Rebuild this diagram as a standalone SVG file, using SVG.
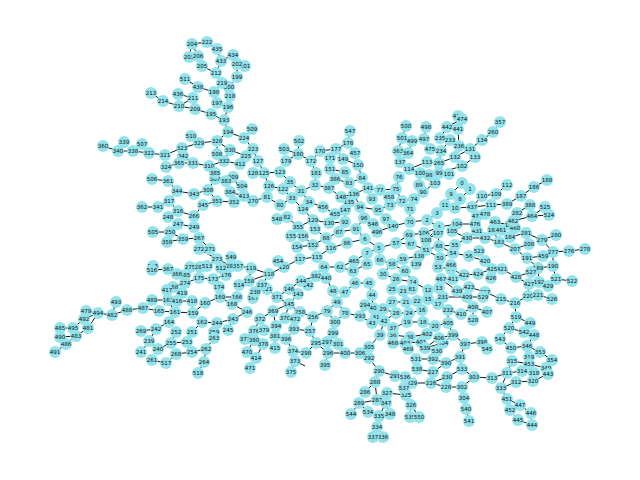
<svg xmlns="http://www.w3.org/2000/svg" width="640" height="480" viewBox="0 0 640 480">
<style>
#edges path{stroke:#000;stroke-width:.9;fill:none}
circle{r:6px;fill:#93e3ec}
text{font:5.6px "DejaVu Sans",sans-serif;text-anchor:middle;dominant-baseline:central;fill:#111}
</style>
<rect width="640" height="480" fill="#fff"/>
<g id="edges">
<path d="M192 44L207 42"/><path d="M207 42L217 49"/><path d="M192 44L189 57"/><path d="M192 44L198 56"/><path d="M198 56L202 66"/><path d="M202 66L216 73"/><path d="M217 49L221 61"/><path d="M221 61L216 73"/><path d="M233 55L221 61"/><path d="M237 64L237 77"/><path d="M245 66L237 64"/><path d="M216 73L222 83"/><path d="M222 83L229 87"/><path d="M237 77L229 87"/><path d="M229 87L230 96"/><path d="M230 96L228 107"/><path d="M185 79L198 87"/><path d="M198 87L214 92"/><path d="M214 92L217 103"/><path d="M214 92L222 83"/><path d="M217 103L228 107"/><path d="M228 107L224 120"/><path d="M224 120L211 114"/><path d="M211 114L195 109"/><path d="M195 109L179 106"/><path d="M179 106L163 101"/><path d="M163 101L151 93"/><path d="M179 106L193 98"/><path d="M178 94L193 98"/><path d="M193 98L195 109"/><path d="M224 120L228 132"/><path d="M228 132L244 138"/><path d="M228 132L217 141"/><path d="M217 141L199 143"/><path d="M199 143L191 136"/><path d="M199 143L182 148"/><path d="M182 148L165 155"/><path d="M182 148L183 156"/><path d="M165 155L149 153"/><path d="M149 153L142 144"/><path d="M149 153L133 151"/><path d="M133 151L118 151"/><path d="M118 151L103 146"/><path d="M118 151L124 142"/><path d="M217 141L230 150"/><path d="M217 141L217 154"/><path d="M230 150L246 156"/><path d="M230 150L224 161"/><path d="M224 161L240 164"/><path d="M224 161L209 166"/><path d="M209 166L193 163"/><path d="M193 163L179 163"/><path d="M179 163L166 167"/><path d="M193 163L183 156"/><path d="M244 138L253 149"/><path d="M253 149L246 156"/><path d="M253 149L258 161"/><path d="M258 161L264 173"/><path d="M252 129L244 138"/><path d="M264 173L253 173"/><path d="M264 173L280 172"/><path d="M264 173L269 186"/><path d="M269 186L283 189"/><path d="M283 189L290 182"/><path d="M290 182L280 172"/><path d="M290 182L301 191"/><path d="M301 191L315 185"/><path d="M301 191L292 198"/><path d="M283 189L292 198"/><path d="M292 198L280 205"/><path d="M280 205L267 197"/><path d="M267 197L253 201"/><path d="M292 198L303 209"/><path d="M303 209L313 220"/><path d="M313 220L298 227"/><path d="M298 227L287 217"/><path d="M287 217L277 219"/><path d="M309 202L301 191"/><path d="M309 202L323 207"/><path d="M323 207L335 214"/><path d="M335 214L345 210"/><path d="M345 210L349 202"/><path d="M349 202L354 194"/><path d="M354 194L341 197"/><path d="M341 197L329 188"/><path d="M329 188L315 185"/><path d="M315 185L316 173"/><path d="M316 173L311 161"/><path d="M311 161L298 154"/><path d="M298 154L286 161"/><path d="M298 154L299 141"/><path d="M298 154L284 149"/><path d="M311 161L320 151"/><path d="M320 151L336 149"/><path d="M336 149L348 143"/><path d="M348 143L350 131"/><path d="M348 143L355 153"/><path d="M336 149L330 158"/><path d="M336 149L343 159"/><path d="M343 159L358 165"/><path d="M330 158L330 169"/><path d="M330 169L345 172"/><path d="M345 172L349 183"/><path d="M349 183L335 179"/><path d="M335 179L329 188"/><path d="M349 183L362 178"/><path d="M362 178L368 188"/><path d="M362 178L358 165"/><path d="M368 188L380 190"/><path d="M368 188L354 194"/><path d="M354 194L360 207"/><path d="M360 207L378 210"/><path d="M378 210L386 219"/><path d="M386 219L393 226"/><path d="M393 226L410 222"/><path d="M393 226L377 232"/><path d="M377 232L373 224"/><path d="M373 224L364 218"/><path d="M364 218L356 229"/><path d="M356 229L365 239"/><path d="M356 229L339 232"/><path d="M339 232L345 222"/><path d="M345 222L329 223"/><path d="M329 223L313 220"/><path d="M329 223L335 214"/><path d="M345 222L345 210"/><path d="M339 232L326 238"/><path d="M326 238L315 229"/><path d="M326 238L313 245"/><path d="M313 245L297 247"/><path d="M313 245L303 236"/><path d="M315 229L313 220"/><path d="M303 236L298 227"/><path d="M291 236L303 236"/><path d="M331 248L326 238"/><path d="M331 248L347 243"/><path d="M347 243L365 239"/><path d="M365 239L379 248"/><path d="M379 248L396 243"/><path d="M396 243L409 235"/><path d="M409 235L424 233"/><path d="M424 233L439 227"/><path d="M411 244L396 243"/><path d="M411 244L426 250"/><path d="M426 250L426 240"/><path d="M426 240L439 227"/><path d="M426 240L438 233"/><path d="M439 227L427 220"/><path d="M427 220L410 222"/><path d="M427 220L437 213"/><path d="M437 213L445 205"/><path d="M445 205L451 194"/><path d="M451 194L462 183"/><path d="M462 183L470 189"/><path d="M470 189L460 199"/><path d="M460 199L455 208"/><path d="M455 208L472 207"/><path d="M472 207L482 196"/><path d="M472 207L491 205"/><path d="M439 227L457 224"/><path d="M457 224L475 224"/><path d="M475 224L477 231"/><path d="M477 231L467 238"/><path d="M467 238L485 238"/><path d="M452 231L467 238"/><path d="M452 231L457 224"/><path d="M467 238L455 245"/><path d="M455 245L439 246"/><path d="M439 246L426 250"/><path d="M439 246L438 233"/><path d="M439 246L453 253"/><path d="M453 253L440 258"/><path d="M453 253L469 256"/><path d="M440 258L426 250"/><path d="M469 256L479 251"/><path d="M469 256L485 261"/><path d="M440 258L438 267"/><path d="M438 267L451 269"/><path d="M451 269L451 265"/><path d="M451 269L464 275"/><path d="M464 275L478 274"/><path d="M478 274L492 269"/><path d="M464 275L453 279"/><path d="M453 279L441 279"/><path d="M441 279L457 291"/><path d="M457 291L469 287"/><path d="M469 287L467 297"/><path d="M469 287L485 292"/><path d="M485 292L501 299"/><path d="M501 299L515 303"/><path d="M467 297L483 297"/><path d="M467 297L443 297"/><path d="M443 297L439 288"/><path d="M443 297L438 304"/><path d="M438 304L448 310"/><path d="M448 310L461 314"/><path d="M461 314L473 307"/><path d="M473 307L487 312"/><path d="M473 307L473 320"/><path d="M448 310L448 323"/><path d="M448 323L435 326"/><path d="M448 323L453 335"/><path d="M435 326L423 322"/><path d="M423 322L407 322"/><path d="M407 322L393 328"/><path d="M393 328L393 335"/><path d="M393 335L410 337"/><path d="M410 337L427 334"/><path d="M427 334L421 342"/><path d="M421 342L405 343"/><path d="M405 343L408 349"/><path d="M405 343L393 343"/><path d="M421 342L425 348"/><path d="M425 348L443 343"/><path d="M443 343L453 335"/><path d="M439 338L453 335"/><path d="M439 338L425 348"/><path d="M425 348L437 351"/><path d="M453 335L465 344"/><path d="M465 344L482 342"/><path d="M482 342L487 349"/><path d="M465 344L460 357"/><path d="M460 357L446 363"/><path d="M446 363L433 372"/><path d="M446 363L433 359"/><path d="M433 359L416 359"/><path d="M433 372L417 369"/><path d="M433 372L431 383"/><path d="M431 383L412 383"/><path d="M412 383L405 377"/><path d="M405 377L395 376"/><path d="M395 376L379 371"/><path d="M379 371L375 382"/><path d="M375 382L377 400"/><path d="M377 400L387 393"/><path d="M387 393L406 395"/><path d="M406 395L404 388"/><path d="M404 388L412 383"/><path d="M431 383L447 377"/><path d="M447 377L462 369"/><path d="M462 369L460 357"/><path d="M462 369L474 377"/><path d="M474 377L492 378"/><path d="M474 377L462 387"/><path d="M462 387L446 387"/><path d="M446 387L431 383"/><path d="M462 387L464 398"/><path d="M464 398L466 409"/><path d="M466 409L469 421"/><path d="M406 395L411 405"/><path d="M411 405L410 417"/><path d="M411 405L419 417"/><path d="M377 400L386 403"/><path d="M386 403L390 414"/><path d="M386 403L379 416"/><path d="M379 416L377 427"/><path d="M377 427L373 437"/><path d="M377 427L383 437"/><path d="M377 400L359 403"/><path d="M359 403L351 414"/><path d="M359 403L368 412"/><path d="M365 392L375 382"/><path d="M413 282L396 279"/><path d="M396 279L383 274"/><path d="M383 274L392 264"/><path d="M392 264L380 260"/><path d="M380 260L379 248"/><path d="M392 264L405 271"/><path d="M405 271L413 282"/><path d="M413 282L428 290"/><path d="M428 290L439 288"/><path d="M428 290L428 299"/><path d="M403 259L419 256"/><path d="M419 256L416 264"/><path d="M403 259L392 264"/><path d="M367 253L379 248"/><path d="M367 253L367 264"/><path d="M367 264L353 271"/><path d="M353 271L340 267"/><path d="M340 267L324 267"/><path d="M340 267L354 261"/><path d="M354 261L367 253"/><path d="M324 267L316 276"/><path d="M316 276L301 281"/><path d="M301 281L308 285"/><path d="M301 281L289 289"/><path d="M289 289L298 294"/><path d="M298 294L289 304"/><path d="M289 289L277 297"/><path d="M277 297L289 304"/><path d="M277 297L267 289"/><path d="M267 289L262 285"/><path d="M267 289L255 292"/><path d="M262 285L269 274"/><path d="M269 274L284 267"/><path d="M284 267L300 259"/><path d="M284 267L278 261"/><path d="M300 259L317 257"/><path d="M317 257L331 248"/><path d="M269 274L251 268"/><path d="M269 274L249 281"/><path d="M255 292L253 298"/><path d="M326 278L333 291"/><path d="M333 291L345 292"/><path d="M345 292L355 283"/><path d="M355 283L369 283"/><path d="M345 292L337 302"/><path d="M337 302L327 311"/><path d="M337 302L345 313"/><path d="M345 313L360 316"/><path d="M360 316L365 305"/><path d="M360 316L372 323"/><path d="M327 311L313 317"/><path d="M327 311L335 322"/><path d="M335 322L345 313"/><path d="M313 317L300 312"/><path d="M300 312L289 304"/><path d="M313 317L310 331"/><path d="M310 331L294 329"/><path d="M294 329L295 319"/><path d="M295 319L285 318"/><path d="M285 318L289 304"/><path d="M289 304L273 311"/><path d="M273 311L260 319"/><path d="M260 319L254 331"/><path d="M273 311L276 326"/><path d="M276 326L275 336"/><path d="M275 336L286 339"/><path d="M275 336L275 348"/><path d="M286 339L294 329"/><path d="M286 339L293 351"/><path d="M293 351L306 353"/><path d="M306 353L316 343"/><path d="M293 351L295 361"/><path d="M295 361L291 372"/><path d="M295 361L305 366"/><path d="M316 343L310 331"/><path d="M316 343L328 353"/><path d="M328 353L327 342"/><path d="M328 353L325 365"/><path d="M328 353L345 353"/><path d="M345 353L360 353"/><path d="M360 353L369 347"/><path d="M360 353L369 358"/><path d="M327 342L333 333"/><path d="M327 342L338 344"/><path d="M369 347L380 335"/><path d="M380 335L384 321"/><path d="M384 321L376 317"/><path d="M384 321L372 323"/><path d="M384 321L396 313"/><path d="M396 313L383 309"/><path d="M396 313L409 313"/><path d="M409 313L422 310"/><path d="M409 313L406 302"/><path d="M406 302L392 302"/><path d="M406 302L417 301"/><path d="M412 289L413 282"/><path d="M412 289L403 291"/><path d="M403 291L392 289"/><path d="M392 289L396 279"/><path d="M373 308L376 317"/><path d="M373 308L372 295"/><path d="M372 295L369 283"/><path d="M369 358L379 371"/><path d="M237 297L220 297"/><path d="M220 297L205 303"/><path d="M205 303L193 313"/><path d="M193 313L175 312"/><path d="M175 312L159 311"/><path d="M159 311L143 308"/><path d="M143 308L127 310"/><path d="M127 310L112 315"/><path d="M112 315L116 302"/><path d="M112 315L98 313"/><path d="M98 313L86 311"/><path d="M98 313L84 319"/><path d="M84 319L73 328"/><path d="M73 328L60 328"/><path d="M73 328L76 336"/><path d="M88 328L98 313"/><path d="M76 336L88 328"/><path d="M76 336L60 337"/><path d="M76 336L66 344"/><path d="M66 344L55 352"/><path d="M175 312L168 300"/><path d="M168 300L152 300"/><path d="M168 300L177 301"/><path d="M177 301L192 301"/><path d="M192 301L193 313"/><path d="M177 301L182 293"/><path d="M182 293L167 290"/><path d="M167 290L173 287"/><path d="M173 287L185 283"/><path d="M185 283L177 274"/><path d="M185 283L199 278"/><path d="M199 278L213 279"/><path d="M213 279L226 275"/><path d="M226 275L221 268"/><path d="M213 279L219 287"/><path d="M168 269L152 270"/><path d="M152 270L153 266"/><path d="M168 269L177 274"/><path d="M177 274L185 275"/><path d="M185 275L190 267"/><path d="M190 267L200 267"/><path d="M200 267L207 266"/><path d="M207 266L217 259"/><path d="M217 259L199 249"/><path d="M217 259L210 249"/><path d="M210 249L199 238"/><path d="M199 238L183 239"/><path d="M183 239L167 242"/><path d="M183 239L170 232"/><path d="M170 232L153 232"/><path d="M170 232L178 224"/><path d="M178 224L194 227"/><path d="M194 227L194 216"/><path d="M194 216L178 211"/><path d="M178 211L169 201"/><path d="M169 201L177 191"/><path d="M177 191L194 194"/><path d="M177 191L168 181"/><path d="M168 181L152 179"/><path d="M194 194L208 190"/><path d="M208 190L217 201"/><path d="M217 201L203 205"/><path d="M203 205L194 216"/><path d="M217 201L234 202"/><path d="M234 202L230 192"/><path d="M230 192L244 196"/><path d="M208 190L215 179"/><path d="M215 179L215 173"/><path d="M215 179L226 181"/><path d="M226 181L233 177"/><path d="M233 177L244 196"/><path d="M244 196L242 186"/><path d="M169 201L158 207"/><path d="M158 207L142 207"/><path d="M178 211L168 217"/><path d="M217 259L231 266"/><path d="M231 266L221 268"/><path d="M231 266L231 257"/><path d="M231 266L238 266"/><path d="M238 266L251 268"/><path d="M251 268L249 281"/><path d="M169 322L175 312"/><path d="M169 322L156 329"/><path d="M156 329L141 331"/><path d="M156 329L149 341"/><path d="M149 341L141 352"/><path d="M149 341L158 349"/><path d="M158 349L171 343"/><path d="M171 343L187 342"/><path d="M171 343L176 332"/><path d="M187 342L192 332"/><path d="M192 332L202 322"/><path d="M202 322L217 323"/><path d="M217 323L233 319"/><path d="M233 319L247 312"/><path d="M233 319L228 330"/><path d="M217 323L214 332"/><path d="M214 332L214 338"/><path d="M214 338L206 349"/><path d="M206 349L192 352"/><path d="M192 352L176 354"/><path d="M176 354L166 363"/><path d="M166 363L152 360"/><path d="M206 349L204 362"/><path d="M204 362L198 373"/><path d="M247 312L232 304"/><path d="M232 304L220 297"/><path d="M263 344L254 340"/><path d="M263 344L256 358"/><path d="M256 358L250 368"/><path d="M254 340L247 352"/><path d="M254 331L245 339"/><path d="M482 196L496 194"/><path d="M496 194L507 185"/><path d="M491 205L507 204"/><path d="M507 204L521 196"/><path d="M521 196L534 187"/><path d="M534 187L547 180"/><path d="M517 213L530 205"/><path d="M517 213L510 225"/><path d="M532 216L513 221"/><path d="M532 216L545 207"/><path d="M532 216L549 215"/><path d="M495 222L510 225"/><path d="M510 225L515 228"/><path d="M515 228L510 237"/><path d="M510 237L526 233"/><path d="M526 233L529 244"/><path d="M526 233L542 240"/><path d="M542 240L556 235"/><path d="M542 240L553 252"/><path d="M553 252L569 251"/><path d="M569 251L585 249"/><path d="M553 252L553 266"/><path d="M553 252L543 256"/><path d="M543 256L527 258"/><path d="M527 258L515 249"/><path d="M515 249L529 244"/><path d="M515 249L499 242"/><path d="M499 242L493 230"/><path d="M493 230L501 230"/><path d="M501 230L515 228"/><path d="M485 238L499 242"/><path d="M527 258L538 268"/><path d="M538 268L531 272"/><path d="M538 268L553 266"/><path d="M538 268L539 282"/><path d="M531 272L516 277"/><path d="M516 277L529 284"/><path d="M516 277L502 269"/><path d="M502 269L492 269"/><path d="M529 284L539 282"/><path d="M539 282L548 286"/><path d="M553 266L556 279"/><path d="M556 279L572 281"/><path d="M548 286L556 279"/><path d="M529 284L528 296"/><path d="M528 296L538 295"/><path d="M538 295L552 299"/><path d="M528 296L515 303"/><path d="M515 303L516 317"/><path d="M516 317L530 323"/><path d="M530 323L524 332"/><path d="M516 317L509 328"/><path d="M509 328L524 332"/><path d="M524 332L534 335"/><path d="M534 335L527 346"/><path d="M509 328L500 339"/><path d="M500 339L511 348"/><path d="M511 348L527 346"/><path d="M527 346L540 352"/><path d="M540 352L552 360"/><path d="M527 346L529 357"/><path d="M529 357L529 364"/><path d="M512 361L529 364"/><path d="M529 364L546 368"/><path d="M546 368L552 360"/><path d="M512 361L507 373"/><path d="M507 373L522 371"/><path d="M507 373L492 378"/><path d="M507 373L501 388"/><path d="M522 371L534 373"/><path d="M534 373L533 381"/><path d="M533 381L516 382"/><path d="M533 381L548 374"/><path d="M516 382L501 388"/><path d="M501 388L507 399"/><path d="M507 399L520 405"/><path d="M520 405L510 410"/><path d="M520 405L531 413"/><path d="M518 420L532 425"/><path d="M531 413L532 425"/><path d="M510 410L518 420"/><path d="M470 149L459 146"/><path d="M470 149L482 140"/><path d="M470 149L475 157"/><path d="M470 149L455 157"/><path d="M455 157L439 163"/><path d="M439 163L427 162"/><path d="M475 157L462 166"/><path d="M482 140L493 132"/><path d="M493 132L500 122"/><path d="M459 146L450 140"/><path d="M459 146L458 129"/><path d="M450 140L441 151"/><path d="M450 140L440 138"/><path d="M441 151L430 149"/><path d="M440 138L447 127"/><path d="M458 129L447 127"/><path d="M447 127L462 119"/><path d="M458 116L462 119"/><path d="M430 149L424 139"/><path d="M424 139L426 127"/><path d="M441 151L439 163"/><path d="M462 166L439 173"/><path d="M427 162L409 169"/><path d="M409 169L400 162"/><path d="M400 162L408 153"/><path d="M408 153L398 151"/><path d="M398 151L402 138"/><path d="M402 138L406 126"/><path d="M408 153L412 141"/><path d="M439 173L449 174"/><path d="M439 173L429 175"/><path d="M429 175L420 173"/><path d="M420 173L419 185"/><path d="M435 183L423 192"/><path d="M419 185L423 192"/><path d="M423 192L414 199"/><path d="M414 199L402 201"/><path d="M402 201L396 189"/><path d="M396 189L399 177"/><path d="M396 189L380 190"/><path d="M390 205L402 201"/><path d="M390 205L389 197"/><path d="M390 205L378 210"/><path d="M410 209L410 222"/>
</g>
<g id="nodes">
<g id="n0" transform="translate(462 183)"><circle/><text>0</text></g>
<g id="n1" transform="translate(470 189)"><circle/><text>1</text></g>
<g id="n2" transform="translate(427 220)"><circle/><text>2</text></g>
<g id="n3" transform="translate(437 213)"><circle/><text>3</text></g>
<g id="n4" transform="translate(439 227)"><circle/><text>4</text></g>
<g id="n5" transform="translate(379 248)"><circle/><text>5</text></g>
<g id="n6" transform="translate(365 239)"><circle/><text>6</text></g>
<g id="n7" transform="translate(367 253)"><circle/><text>7</text></g>
<g id="n8" transform="translate(460 199)"><circle/><text>8</text></g>
<g id="n9" transform="translate(451 194)"><circle/><text>9</text></g>
<g id="n10" transform="translate(455 208)"><circle/><text>10</text></g>
<g id="n11" transform="translate(445 205)"><circle/><text>11</text></g>
<g id="n12" transform="translate(428 290)"><circle/><text>12</text></g>
<g id="n13" transform="translate(439 288)"><circle/><text>13</text></g>
<g id="n14" transform="translate(413 282)"><circle/><text>14</text></g>
<g id="n15" transform="translate(428 299)"><circle/><text>15</text></g>
<g id="n16" transform="translate(422 310)"><circle/><text>16</text></g>
<g id="n17" transform="translate(438 304)"><circle/><text>17</text></g>
<g id="n18" transform="translate(423 322)"><circle/><text>18</text></g>
<g id="n19" transform="translate(407 322)"><circle/><text>19</text></g>
<g id="n20" transform="translate(435 326)"><circle/><text>20</text></g>
<g id="n21" transform="translate(406 302)"><circle/><text>21</text></g>
<g id="n22" transform="translate(417 301)"><circle/><text>22</text></g>
<g id="n23" transform="translate(403 291)"><circle/><text>23</text></g>
<g id="n24" transform="translate(409 313)"><circle/><text>24</text></g>
<g id="n25" transform="translate(392 289)"><circle/><text>25</text></g>
<g id="n26" transform="translate(396 279)"><circle/><text>26</text></g>
<g id="n27" transform="translate(392 302)"><circle/><text>27</text></g>
<g id="n28" transform="translate(396 313)"><circle/><text>28</text></g>
<g id="n29" transform="translate(383 309)"><circle/><text>29</text></g>
<g id="n30" transform="translate(383 274)"><circle/><text>30</text></g>
<g id="n31" transform="translate(301 191)"><circle/><text>31</text></g>
<g id="n32" transform="translate(315 185)"><circle/><text>32</text></g>
<g id="n33" transform="translate(292 198)"><circle/><text>33</text></g>
<g id="n34" transform="translate(309 202)"><circle/><text>34</text></g>
<g id="n35" transform="translate(290 182)"><circle/><text>35</text></g>
<g id="n36" transform="translate(393 335)"><circle/><text>36</text></g>
<g id="n37" transform="translate(393 328)"><circle/><text>37</text></g>
<g id="n38" transform="translate(410 337)"><circle/><text>38</text></g>
<g id="n39" transform="translate(380 335)"><circle/><text>39</text></g>
<g id="n40" transform="translate(373 308)"><circle/><text>40</text></g>
<g id="n41" transform="translate(376 317)"><circle/><text>41</text></g>
<g id="n42" transform="translate(384 321)"><circle/><text>42</text></g>
<g id="n43" transform="translate(372 323)"><circle/><text>43</text></g>
<g id="n44" transform="translate(372 295)"><circle/><text>44</text></g>
<g id="n45" transform="translate(369 283)"><circle/><text>45</text></g>
<g id="n46" transform="translate(355 283)"><circle/><text>46</text></g>
<g id="n47" transform="translate(345 292)"><circle/><text>47</text></g>
<g id="n48" transform="translate(333 291)"><circle/><text>48</text></g>
<g id="n49" transform="translate(337 302)"><circle/><text>49</text></g>
<g id="n50" transform="translate(440 258)"><circle/><text>50</text></g>
<g id="n51" transform="translate(426 250)"><circle/><text>51</text></g>
<g id="n52" transform="translate(451 269)"><circle/><text>52</text></g>
<g id="n53" transform="translate(438 267)"><circle/><text>53</text></g>
<g id="n54" transform="translate(453 253)"><circle/><text>54</text></g>
<g id="n55" transform="translate(455 245)"><circle/><text>55</text></g>
<g id="n56" transform="translate(469 256)"><circle/><text>56</text></g>
<g id="n57" transform="translate(396 243)"><circle/><text>57</text></g>
<g id="n58" transform="translate(392 264)"><circle/><text>58</text></g>
<g id="n59" transform="translate(403 259)"><circle/><text>59</text></g>
<g id="n60" transform="translate(405 271)"><circle/><text>60</text></g>
<g id="n61" transform="translate(412 289)"><circle/><text>61</text></g>
<g id="n62" transform="translate(340 267)"><circle/><text>62</text></g>
<g id="n63" transform="translate(353 271)"><circle/><text>63</text></g>
<g id="n64" transform="translate(324 267)"><circle/><text>64</text></g>
<g id="n65" transform="translate(367 264)"><circle/><text>65</text></g>
<g id="n66" transform="translate(380 260)"><circle/><text>66</text></g>
<g id="n67" transform="translate(411 244)"><circle/><text>67</text></g>
<g id="n68" transform="translate(439 246)"><circle/><text>68</text></g>
<g id="n69" transform="translate(409 235)"><circle/><text>69</text></g>
<g id="n70" transform="translate(410 222)"><circle/><text>70</text></g>
<g id="n71" transform="translate(410 209)"><circle/><text>71</text></g>
<g id="n72" transform="translate(402 201)"><circle/><text>72</text></g>
<g id="n73" transform="translate(390 205)"><circle/><text>73</text></g>
<g id="n74" transform="translate(414 199)"><circle/><text>74</text></g>
<g id="n75" transform="translate(396 189)"><circle/><text>75</text></g>
<g id="n76" transform="translate(399 177)"><circle/><text>76</text></g>
<g id="n77" transform="translate(380 190)"><circle/><text>77</text></g>
<g id="n78" transform="translate(345 313)"><circle/><text>78</text></g>
<g id="n79" transform="translate(327 311)"><circle/><text>79</text></g>
<g id="n80" transform="translate(280 205)"><circle/><text>80</text></g>
<g id="n81" transform="translate(267 197)"><circle/><text>81</text></g>
<g id="n82" transform="translate(287 217)"><circle/><text>82</text></g>
<g id="n83" transform="translate(349 183)"><circle/><text>83</text></g>
<g id="n84" transform="translate(362 178)"><circle/><text>84</text></g>
<g id="n85" transform="translate(345 172)"><circle/><text>85</text></g>
<g id="n86" transform="translate(347 243)"><circle/><text>86</text></g>
<g id="n87" transform="translate(339 232)"><circle/><text>87</text></g>
<g id="n88" transform="translate(326 238)"><circle/><text>88</text></g>
<g id="n89" transform="translate(419 185)"><circle/><text>89</text></g>
<g id="n90" transform="translate(423 192)"><circle/><text>90</text></g>
<g id="n91" transform="translate(356 229)"><circle/><text>91</text></g>
<g id="n92" transform="translate(345 222)"><circle/><text>92</text></g>
<g id="n93" transform="translate(372 199)"><circle/><text>93</text></g>
<g id="n94" transform="translate(360 207)"><circle/><text>94</text></g>
<g id="n95" transform="translate(378 210)"><circle/><text>95</text></g>
<g id="n96" transform="translate(364 218)"><circle/><text>96</text></g>
<g id="n97" transform="translate(386 219)"><circle/><text>97</text></g>
<g id="n98" transform="translate(429 175)"><circle/><text>98</text></g>
<g id="n99" transform="translate(439 173)"><circle/><text>99</text></g>
<g id="n100" transform="translate(420 173)"><circle/><text>100</text></g>
<g id="n101" transform="translate(449 174)"><circle/><text>101</text></g>
<g id="n102" transform="translate(462 166)"><circle/><text>102</text></g>
<g id="n103" transform="translate(435 183)"><circle/><text>103</text></g>
<g id="n104" transform="translate(457 224)"><circle/><text>104</text></g>
<g id="n105" transform="translate(452 231)"><circle/><text>105</text></g>
<g id="n106" transform="translate(424 233)"><circle/><text>106</text></g>
<g id="n107" transform="translate(438 233)"><circle/><text>107</text></g>
<g id="n108" transform="translate(426 240)"><circle/><text>108</text></g>
<g id="n109" transform="translate(496 194)"><circle/><text>109</text></g>
<g id="n110" transform="translate(482 196)"><circle/><text>110</text></g>
<g id="n111" transform="translate(491 205)"><circle/><text>111</text></g>
<g id="n112" transform="translate(507 185)"><circle/><text>112</text></g>
<g id="n113" transform="translate(427 162)"><circle/><text>113</text></g>
<g id="n114" transform="translate(409 169)"><circle/><text>114</text></g>
<g id="n115" transform="translate(317 257)"><circle/><text>115</text></g>
<g id="n116" transform="translate(331 248)"><circle/><text>116</text></g>
<g id="n117" transform="translate(300 259)"><circle/><text>117</text></g>
<g id="n118" transform="translate(269 274)"><circle/><text>118</text></g>
<g id="n119" transform="translate(251 268)"><circle/><text>119</text></g>
<g id="n120" transform="translate(284 267)"><circle/><text>120</text></g>
<g id="n121" transform="translate(267 289)"><circle/><text>121</text></g>
<g id="n122" transform="translate(283 189)"><circle/><text>122</text></g>
<g id="n123" transform="translate(280 172)"><circle/><text>123</text></g>
<g id="n124" transform="translate(303 209)"><circle/><text>124</text></g>
<g id="n125" transform="translate(264 173)"><circle/><text>125</text></g>
<g id="n126" transform="translate(269 186)"><circle/><text>126</text></g>
<g id="n127" transform="translate(258 161)"><circle/><text>127</text></g>
<g id="n128" transform="translate(253 173)"><circle/><text>128</text></g>
<g id="n129" transform="translate(313 220)"><circle/><text>129</text></g>
<g id="n130" transform="translate(329 223)"><circle/><text>130</text></g>
<g id="n131" transform="translate(470 149)"><circle/><text>131</text></g>
<g id="n132" transform="translate(455 157)"><circle/><text>132</text></g>
<g id="n133" transform="translate(475 157)"><circle/><text>133</text></g>
<g id="n134" transform="translate(482 140)"><circle/><text>134</text></g>
<g id="n135" transform="translate(349 202)"><circle/><text>135</text></g>
<g id="n136" transform="translate(354 194)"><circle/><text>136</text></g>
<g id="n137" transform="translate(400 162)"><circle/><text>137</text></g>
<g id="n138" transform="translate(419 256)"><circle/><text>138</text></g>
<g id="n139" transform="translate(416 264)"><circle/><text>139</text></g>
<g id="n140" transform="translate(393 226)"><circle/><text>140</text></g>
<g id="n141" transform="translate(368 188)"><circle/><text>141</text></g>
<g id="n142" transform="translate(308 285)"><circle/><text>142</text></g>
<g id="n143" transform="translate(298 294)"><circle/><text>143</text></g>
<g id="n144" transform="translate(301 281)"><circle/><text>144</text></g>
<g id="n145" transform="translate(289 304)"><circle/><text>145</text></g>
<g id="n146" transform="translate(289 289)"><circle/><text>146</text></g>
<g id="n147" transform="translate(345 210)"><circle/><text>147</text></g>
<g id="n148" transform="translate(341 197)"><circle/><text>148</text></g>
<g id="n149" transform="translate(343 159)"><circle/><text>149</text></g>
<g id="n150" transform="translate(358 165)"><circle/><text>150</text></g>
<g id="n151" transform="translate(330 169)"><circle/><text>151</text></g>
<g id="n152" transform="translate(313 245)"><circle/><text>152</text></g>
<g id="n153" transform="translate(315 229)"><circle/><text>153</text></g>
<g id="n154" transform="translate(297 247)"><circle/><text>154</text></g>
<g id="n155" transform="translate(291 236)"><circle/><text>155</text></g>
<g id="n156" transform="translate(303 236)"><circle/><text>156</text></g>
<g id="n157" transform="translate(238 266)"><circle/><text>157</text></g>
<g id="n158" transform="translate(249 281)"><circle/><text>158</text></g>
<g id="n159" transform="translate(193 313)"><circle/><text>159</text></g>
<g id="n160" transform="translate(205 303)"><circle/><text>160</text></g>
<g id="n161" transform="translate(175 312)"><circle/><text>161</text></g>
<g id="n162" transform="translate(202 322)"><circle/><text>162</text></g>
<g id="n163" transform="translate(168 300)"><circle/><text>163</text></g>
<g id="n164" transform="translate(169 322)"><circle/><text>164</text></g>
<g id="n165" transform="translate(159 311)"><circle/><text>165</text></g>
<g id="n166" transform="translate(237 297)"><circle/><text>166</text></g>
<g id="n167" transform="translate(253 298)"><circle/><text>167</text></g>
<g id="n168" transform="translate(232 304)"><circle/><text>168</text></g>
<g id="n169" transform="translate(220 297)"><circle/><text>169</text></g>
<g id="n170" transform="translate(320 151)"><circle/><text>170</text></g>
<g id="n171" transform="translate(330 158)"><circle/><text>171</text></g>
<g id="n172" transform="translate(311 161)"><circle/><text>172</text></g>
<g id="n173" transform="translate(213 279)"><circle/><text>173</text></g>
<g id="n174" transform="translate(219 287)"><circle/><text>174</text></g>
<g id="n175" transform="translate(199 278)"><circle/><text>175</text></g>
<g id="n176" transform="translate(226 275)"><circle/><text>176</text></g>
<g id="n177" transform="translate(336 149)"><circle/><text>177</text></g>
<g id="n178" transform="translate(348 143)"><circle/><text>178</text></g>
<g id="n179" transform="translate(286 161)"><circle/><text>179</text></g>
<g id="n180" transform="translate(298 154)"><circle/><text>180</text></g>
<g id="n181" transform="translate(316 173)"><circle/><text>181</text></g>
<g id="n182" transform="translate(493 230)"><circle/><text>182</text></g>
<g id="n183" transform="translate(499 242)"><circle/><text>183</text></g>
<g id="n184" transform="translate(510 237)"><circle/><text>184</text></g>
<g id="n185" transform="translate(510 225)"><circle/><text>185</text></g>
<g id="n186" transform="translate(534 187)"><circle/><text>186</text></g>
<g id="n187" transform="translate(521 196)"><circle/><text>187</text></g>
<g id="n188" transform="translate(547 180)"><circle/><text>188</text></g>
<g id="n189" transform="translate(538 268)"><circle/><text>189</text></g>
<g id="n190" transform="translate(553 266)"><circle/><text>190</text></g>
<g id="n191" transform="translate(527 258)"><circle/><text>191</text></g>
<g id="n192" transform="translate(539 282)"><circle/><text>192</text></g>
<g id="n193" transform="translate(224 120)"><circle/><text>193</text></g>
<g id="n194" transform="translate(228 132)"><circle/><text>194</text></g>
<g id="n195" transform="translate(211 114)"><circle/><text>195</text></g>
<g id="n196" transform="translate(228 107)"><circle/><text>196</text></g>
<g id="n197" transform="translate(217 103)"><circle/><text>197</text></g>
<g id="n198" transform="translate(214 92)"><circle/><text>198</text></g>
<g id="n199" transform="translate(237 77)"><circle/><text>199</text></g>
<g id="n200" transform="translate(229 87)"><circle/><text>200</text></g>
<g id="n201" transform="translate(245 66)"><circle/><text>201</text></g>
<g id="n202" transform="translate(237 64)"><circle/><text>202</text></g>
<g id="n203" transform="translate(189 57)"><circle/><text>203</text></g>
<g id="n204" transform="translate(192 44)"><circle/><text>204</text></g>
<g id="n205" transform="translate(202 66)"><circle/><text>205</text></g>
<g id="n206" transform="translate(198 56)"><circle/><text>206</text></g>
<g id="n207" transform="translate(515 249)"><circle/><text>207</text></g>
<g id="n208" transform="translate(529 244)"><circle/><text>208</text></g>
<g id="n209" transform="translate(195 109)"><circle/><text>209</text></g>
<g id="n210" transform="translate(179 106)"><circle/><text>210</text></g>
<g id="n211" transform="translate(193 98)"><circle/><text>211</text></g>
<g id="n212" transform="translate(216 73)"><circle/><text>212</text></g>
<g id="n213" transform="translate(151 93)"><circle/><text>213</text></g>
<g id="n214" transform="translate(163 101)"><circle/><text>214</text></g>
<g id="n215" transform="translate(501 299)"><circle/><text>215</text></g>
<g id="n216" transform="translate(515 303)"><circle/><text>216</text></g>
<g id="n217" transform="translate(485 292)"><circle/><text>217</text></g>
<g id="n218" transform="translate(230 96)"><circle/><text>218</text></g>
<g id="n219" transform="translate(222 83)"><circle/><text>219</text></g>
<g id="n220" transform="translate(528 296)"><circle/><text>220</text></g>
<g id="n221" transform="translate(538 295)"><circle/><text>221</text></g>
<g id="n222" transform="translate(207 42)"><circle/><text>222</text></g>
<g id="n223" transform="translate(253 149)"><circle/><text>223</text></g>
<g id="n224" transform="translate(244 138)"><circle/><text>224</text></g>
<g id="n225" transform="translate(246 156)"><circle/><text>225</text></g>
<g id="n226" transform="translate(431 383)"><circle/><text>226</text></g>
<g id="n227" transform="translate(433 372)"><circle/><text>227</text></g>
<g id="n228" transform="translate(446 387)"><circle/><text>228</text></g>
<g id="n229" transform="translate(412 383)"><circle/><text>229</text></g>
<g id="n230" transform="translate(447 377)"><circle/><text>230</text></g>
<g id="n231" transform="translate(443 297)"><circle/><text>231</text></g>
<g id="n232" transform="translate(448 310)"><circle/><text>232</text></g>
<g id="n233" transform="translate(450 140)"><circle/><text>233</text></g>
<g id="n234" transform="translate(441 151)"><circle/><text>234</text></g>
<g id="n235" transform="translate(440 138)"><circle/><text>235</text></g>
<g id="n236" transform="translate(459 146)"><circle/><text>236</text></g>
<g id="n237" transform="translate(262 285)"><circle/><text>237</text></g>
<g id="n238" transform="translate(255 292)"><circle/><text>238</text></g>
<g id="n239" transform="translate(149 341)"><circle/><text>239</text></g>
<g id="n240" transform="translate(158 349)"><circle/><text>240</text></g>
<g id="n241" transform="translate(141 352)"><circle/><text>241</text></g>
<g id="n242" transform="translate(156 329)"><circle/><text>242</text></g>
<g id="n243" transform="translate(233 319)"><circle/><text>243</text></g>
<g id="n244" transform="translate(217 323)"><circle/><text>244</text></g>
<g id="n245" transform="translate(228 330)"><circle/><text>245</text></g>
<g id="n246" transform="translate(247 312)"><circle/><text>246</text></g>
<g id="n247" transform="translate(178 224)"><circle/><text>247</text></g>
<g id="n248" transform="translate(168 217)"><circle/><text>248</text></g>
<g id="n249" transform="translate(194 227)"><circle/><text>249</text></g>
<g id="n250" transform="translate(170 232)"><circle/><text>250</text></g>
<g id="n251" transform="translate(192 332)"><circle/><text>251</text></g>
<g id="n252" transform="translate(176 332)"><circle/><text>252</text></g>
<g id="n253" transform="translate(187 342)"><circle/><text>253</text></g>
<g id="n254" transform="translate(192 352)"><circle/><text>254</text></g>
<g id="n255" transform="translate(171 343)"><circle/><text>255</text></g>
<g id="n256" transform="translate(313 317)"><circle/><text>256</text></g>
<g id="n257" transform="translate(310 331)"><circle/><text>257</text></g>
<g id="n258" transform="translate(300 312)"><circle/><text>258</text></g>
<g id="n259" transform="translate(214 332)"><circle/><text>259</text></g>
<g id="n260" transform="translate(493 132)"><circle/><text>260</text></g>
<g id="n261" transform="translate(152 360)"><circle/><text>261</text></g>
<g id="n262" transform="translate(206 349)"><circle/><text>262</text></g>
<g id="n263" transform="translate(214 338)"><circle/><text>263</text></g>
<g id="n264" transform="translate(204 362)"><circle/><text>264</text></g>
<g id="n265" transform="translate(439 163)"><circle/><text>265</text></g>
<g id="n266" transform="translate(194 216)"><circle/><text>266</text></g>
<g id="n267" transform="translate(199 238)"><circle/><text>267</text></g>
<g id="n268" transform="translate(176 354)"><circle/><text>268</text></g>
<g id="n269" transform="translate(141 331)"><circle/><text>269</text></g>
<g id="n270" transform="translate(253 201)"><circle/><text>270</text></g>
<g id="n271" transform="translate(210 249)"><circle/><text>271</text></g>
<g id="n272" transform="translate(199 249)"><circle/><text>272</text></g>
<g id="n273" transform="translate(217 259)"><circle/><text>273</text></g>
<g id="n274" transform="translate(185 283)"><circle/><text>274</text></g>
<g id="n275" transform="translate(190 267)"><circle/><text>275</text></g>
<g id="n276" transform="translate(569 251)"><circle/><text>276</text></g>
<g id="n277" transform="translate(553 252)"><circle/><text>277</text></g>
<g id="n278" transform="translate(585 249)"><circle/><text>278</text></g>
<g id="n279" transform="translate(542 240)"><circle/><text>279</text></g>
<g id="n280" transform="translate(556 235)"><circle/><text>280</text></g>
<g id="n281" transform="translate(526 233)"><circle/><text>281</text></g>
<g id="n282" transform="translate(517 213)"><circle/><text>282</text></g>
<g id="n283" transform="translate(231 266)"><circle/><text>283</text></g>
<g id="n284" transform="translate(200 267)"><circle/><text>284</text></g>
<g id="n285" transform="translate(185 275)"><circle/><text>285</text></g>
<g id="n286" transform="translate(365 392)"><circle/><text>286</text></g>
<g id="n287" transform="translate(377 400)"><circle/><text>287</text></g>
<g id="n288" transform="translate(375 382)"><circle/><text>288</text></g>
<g id="n289" transform="translate(359 403)"><circle/><text>289</text></g>
<g id="n290" transform="translate(379 371)"><circle/><text>290</text></g>
<g id="n291" transform="translate(395 376)"><circle/><text>291</text></g>
<g id="n292" transform="translate(369 358)"><circle/><text>292</text></g>
<g id="n293" transform="translate(360 316)"><circle/><text>293</text></g>
<g id="n294" transform="translate(365 305)"><circle/><text>294</text></g>
<g id="n295" transform="translate(316 343)"><circle/><text>295</text></g>
<g id="n296" transform="translate(328 353)"><circle/><text>296</text></g>
<g id="n297" transform="translate(327 342)"><circle/><text>297</text></g>
<g id="n298" transform="translate(306 353)"><circle/><text>298</text></g>
<g id="n299" transform="translate(333 333)"><circle/><text>299</text></g>
<g id="n300" transform="translate(335 322)"><circle/><text>300</text></g>
<g id="n301" transform="translate(338 344)"><circle/><text>301</text></g>
<g id="n302" transform="translate(462 387)"><circle/><text>302</text></g>
<g id="n303" transform="translate(474 377)"><circle/><text>303</text></g>
<g id="n304" transform="translate(464 398)"><circle/><text>304</text></g>
<g id="n305" transform="translate(369 347)"><circle/><text>305</text></g>
<g id="n306" transform="translate(360 353)"><circle/><text>306</text></g>
<g id="n307" transform="translate(215 179)"><circle/><text>307</text></g>
<g id="n308" transform="translate(208 190)"><circle/><text>308</text></g>
<g id="n309" transform="translate(233 177)"><circle/><text>309</text></g>
<g id="n310" transform="translate(209 166)"><circle/><text>310</text></g>
<g id="n311" transform="translate(507 373)"><circle/><text>311</text></g>
<g id="n312" transform="translate(516 382)"><circle/><text>312</text></g>
<g id="n313" transform="translate(492 378)"><circle/><text>313</text></g>
<g id="n314" transform="translate(522 371)"><circle/><text>314</text></g>
<g id="n315" transform="translate(512 361)"><circle/><text>315</text></g>
<g id="n316" transform="translate(178 211)"><circle/><text>316</text></g>
<g id="n317" transform="translate(169 201)"><circle/><text>317</text></g>
<g id="n318" transform="translate(534 373)"><circle/><text>318</text></g>
<g id="n319" transform="translate(529 357)"><circle/><text>319</text></g>
<g id="n320" transform="translate(533 381)"><circle/><text>320</text></g>
<g id="n321" transform="translate(165 155)"><circle/><text>321</text></g>
<g id="n322" transform="translate(149 153)"><circle/><text>322</text></g>
<g id="n323" transform="translate(182 148)"><circle/><text>323</text></g>
<g id="n324" transform="translate(166 167)"><circle/><text>324</text></g>
<g id="n325" transform="translate(406 395)"><circle/><text>325</text></g>
<g id="n326" transform="translate(411 405)"><circle/><text>326</text></g>
<g id="n327" transform="translate(387 393)"><circle/><text>327</text></g>
<g id="n328" transform="translate(217 141)"><circle/><text>328</text></g>
<g id="n329" transform="translate(199 143)"><circle/><text>329</text></g>
<g id="n330" transform="translate(230 150)"><circle/><text>330</text></g>
<g id="n331" transform="translate(193 163)"><circle/><text>331</text></g>
<g id="n332" transform="translate(224 161)"><circle/><text>332</text></g>
<g id="n333" transform="translate(501 388)"><circle/><text>333</text></g>
<g id="n334" transform="translate(377 427)"><circle/><text>334</text></g>
<g id="n335" transform="translate(379 416)"><circle/><text>335</text></g>
<g id="n336" transform="translate(383 437)"><circle/><text>336</text></g>
<g id="n337" transform="translate(373 437)"><circle/><text>337</text></g>
<g id="n338" transform="translate(133 151)"><circle/><text>338</text></g>
<g id="n339" transform="translate(124 142)"><circle/><text>339</text></g>
<g id="n340" transform="translate(118 151)"><circle/><text>340</text></g>
<g id="n341" transform="translate(158 207)"><circle/><text>341</text></g>
<g id="n342" transform="translate(183 156)"><circle/><text>342</text></g>
<g id="n343" transform="translate(194 194)"><circle/><text>343</text></g>
<g id="n344" transform="translate(177 191)"><circle/><text>344</text></g>
<g id="n345" transform="translate(203 205)"><circle/><text>345</text></g>
<g id="n346" transform="translate(527 346)"><circle/><text>346</text></g>
<g id="n347" transform="translate(386 403)"><circle/><text>347</text></g>
<g id="n348" transform="translate(390 414)"><circle/><text>348</text></g>
<g id="n349" transform="translate(546 368)"><circle/><text>349</text></g>
<g id="n351" transform="translate(217 201)"><circle/><text>351</text></g>
<g id="n352" transform="translate(234 202)"><circle/><text>352</text></g>
<g id="n353" transform="translate(540 352)"><circle/><text>353</text></g>
<g id="n354" transform="translate(552 360)"><circle/><text>354</text></g>
<g id="n355" transform="translate(298 227)"><circle/><text>355</text></g>
<g id="n357" transform="translate(500 122)"><circle/><text>357</text></g>
<g id="n358" transform="translate(167 242)"><circle/><text>358</text></g>
<g id="n359" transform="translate(183 239)"><circle/><text>359</text></g>
<g id="n360" transform="translate(103 146)"><circle/><text>360</text></g>
<g id="n361" transform="translate(168 181)"><circle/><text>361</text></g>
<g id="n362" transform="translate(142 207)"><circle/><text>362</text></g>
<g id="n363" transform="translate(398 151)"><circle/><text>363</text></g>
<g id="n364" transform="translate(408 153)"><circle/><text>364</text></g>
<g id="n365" transform="translate(179 163)"><circle/><text>365</text></g>
<g id="n366" transform="translate(177 274)"><circle/><text>366</text></g>
<g id="n367" transform="translate(168 269)"><circle/><text>367</text></g>
<g id="n368" transform="translate(173 287)"><circle/><text>368</text></g>
<g id="n369" transform="translate(273 311)"><circle/><text>369</text></g>
<g id="n370" transform="translate(285 318)"><circle/><text>370</text></g>
<g id="n371" transform="translate(277 297)"><circle/><text>371</text></g>
<g id="n372" transform="translate(260 319)"><circle/><text>372</text></g>
<g id="n373" transform="translate(295 361)"><circle/><text>373</text></g>
<g id="n374" transform="translate(293 351)"><circle/><text>374</text></g>
<g id="n375" transform="translate(291 372)"><circle/><text>375</text></g>
<g id="n376" transform="translate(254 331)"><circle/><text>376</text></g>
<g id="n377" transform="translate(245 339)"><circle/><text>377</text></g>
<g id="n378" transform="translate(263 344)"><circle/><text>378</text></g>
<g id="n379" transform="translate(264 330)"><circle/><text>379</text></g>
<g id="n380" transform="translate(254 340)"><circle/><text>380</text></g>
<g id="n381" transform="translate(275 336)"><circle/><text>381</text></g>
<g id="n382" transform="translate(316 276)"><circle/><text>382</text></g>
<g id="n383" transform="translate(226 181)"><circle/><text>383</text></g>
<g id="n384" transform="translate(230 192)"><circle/><text>384</text></g>
<g id="n385" transform="translate(215 173)"><circle/><text>385</text></g>
<g id="n386" transform="translate(335 179)"><circle/><text>386</text></g>
<g id="n387" transform="translate(329 188)"><circle/><text>387</text></g>
<g id="n388" transform="translate(530 205)"><circle/><text>388</text></g>
<g id="n389" transform="translate(507 204)"><circle/><text>389</text></g>
<g id="n390" transform="translate(446 363)"><circle/><text>390</text></g>
<g id="n391" transform="translate(460 357)"><circle/><text>391</text></g>
<g id="n392" transform="translate(433 359)"><circle/><text>392</text></g>
<g id="n393" transform="translate(294 329)"><circle/><text>393</text></g>
<g id="n394" transform="translate(276 326)"><circle/><text>394</text></g>
<g id="n395" transform="translate(325 365)"><circle/><text>395</text></g>
<g id="n396" transform="translate(286 339)"><circle/><text>396</text></g>
<g id="n397" transform="translate(465 344)"><circle/><text>397</text></g>
<g id="n398" transform="translate(482 342)"><circle/><text>398</text></g>
<g id="n399" transform="translate(453 335)"><circle/><text>399</text></g>
<g id="n400" transform="translate(345 353)"><circle/><text>400</text></g>
<g id="n401" transform="translate(421 342)"><circle/><text>401</text></g>
<g id="n402" transform="translate(427 334)"><circle/><text>402</text></g>
<g id="n403" transform="translate(405 343)"><circle/><text>403</text></g>
<g id="n404" transform="translate(443 343)"><circle/><text>404</text></g>
<g id="n405" transform="translate(448 323)"><circle/><text>405</text></g>
<g id="n406" transform="translate(439 338)"><circle/><text>406</text></g>
<g id="n407" transform="translate(487 312)"><circle/><text>407</text></g>
<g id="n408" transform="translate(473 307)"><circle/><text>408</text></g>
<g id="n409" transform="translate(467 297)"><circle/><text>409</text></g>
<g id="n410" transform="translate(461 314)"><circle/><text>410</text></g>
<g id="n411" transform="translate(453 279)"><circle/><text>411</text></g>
<g id="n412" transform="translate(240 164)"><circle/><text>412</text></g>
<g id="n413" transform="translate(244 196)"><circle/><text>413</text></g>
<g id="n414" transform="translate(256 358)"><circle/><text>414</text></g>
<g id="n415" transform="translate(275 348)"><circle/><text>415</text></g>
<g id="n416" transform="translate(177 301)"><circle/><text>416</text></g>
<g id="n417" transform="translate(167 290)"><circle/><text>417</text></g>
<g id="n418" transform="translate(192 301)"><circle/><text>418</text></g>
<g id="n419" transform="translate(182 293)"><circle/><text>419</text></g>
<g id="n420" transform="translate(485 261)"><circle/><text>420</text></g>
<g id="n421" transform="translate(502 269)"><circle/><text>421</text></g>
<g id="n422" transform="translate(464 275)"><circle/><text>422</text></g>
<g id="n423" transform="translate(469 287)"><circle/><text>423</text></g>
<g id="n424" transform="translate(478 274)"><circle/><text>424</text></g>
<g id="n425" transform="translate(492 269)"><circle/><text>425</text></g>
<g id="n426" transform="translate(491 278)"><circle/><text>426</text></g>
<g id="n427" transform="translate(529 284)"><circle/><text>427</text></g>
<g id="n428" transform="translate(516 277)"><circle/><text>428</text></g>
<g id="n429" transform="translate(548 286)"><circle/><text>429</text></g>
<g id="n430" transform="translate(467 238)"><circle/><text>430</text></g>
<g id="n431" transform="translate(477 231)"><circle/><text>431</text></g>
<g id="n432" transform="translate(485 238)"><circle/><text>432</text></g>
<g id="n433" transform="translate(221 61)"><circle/><text>433</text></g>
<g id="n434" transform="translate(233 55)"><circle/><text>434</text></g>
<g id="n435" transform="translate(217 49)"><circle/><text>435</text></g>
<g id="n436" transform="translate(178 94)"><circle/><text>436</text></g>
<g id="n437" transform="translate(472 207)"><circle/><text>437</text></g>
<g id="n438" transform="translate(198 87)"><circle/><text>438</text></g>
<g id="n439" transform="translate(457 291)"><circle/><text>439</text></g>
<g id="n440" transform="translate(326 278)"><circle/><text>440</text></g>
<g id="n441" transform="translate(458 129)"><circle/><text>441</text></g>
<g id="n442" transform="translate(447 127)"><circle/><text>442</text></g>
<g id="n443" transform="translate(548 374)"><circle/><text>443</text></g>
<g id="n444" transform="translate(532 425)"><circle/><text>444</text></g>
<g id="n445" transform="translate(518 420)"><circle/><text>445</text></g>
<g id="n446" transform="translate(531 413)"><circle/><text>446</text></g>
<g id="n447" transform="translate(520 405)"><circle/><text>447</text></g>
<g id="n448" transform="translate(534 335)"><circle/><text>448</text></g>
<g id="n449" transform="translate(530 323)"><circle/><text>449</text></g>
<g id="n450" transform="translate(511 348)"><circle/><text>450</text></g>
<g id="n451" transform="translate(507 399)"><circle/><text>451</text></g>
<g id="n452" transform="translate(510 410)"><circle/><text>452</text></g>
<g id="n453" transform="translate(529 364)"><circle/><text>453</text></g>
<g id="n454" transform="translate(278 261)"><circle/><text>454</text></g>
<g id="n455" transform="translate(335 214)"><circle/><text>455</text></g>
<g id="n456" transform="translate(323 207)"><circle/><text>456</text></g>
<g id="n457" transform="translate(355 153)"><circle/><text>457</text></g>
<g id="n458" transform="translate(389 197)"><circle/><text>458</text></g>
<g id="n459" transform="translate(543 256)"><circle/><text>459</text></g>
<g id="n460" transform="translate(515 228)"><circle/><text>460</text></g>
<g id="n461" transform="translate(501 230)"><circle/><text>461</text></g>
<g id="n462" transform="translate(513 221)"><circle/><text>462</text></g>
<g id="n463" transform="translate(495 222)"><circle/><text>463</text></g>
<g id="n464" transform="translate(532 216)"><circle/><text>464</text></g>
<g id="n465" transform="translate(354 261)"><circle/><text>465</text></g>
<g id="n466" transform="translate(451 265)"><circle/><text>466</text></g>
<g id="n467" transform="translate(441 279)"><circle/><text>467</text></g>
<g id="n468" transform="translate(393 343)"><circle/><text>468</text></g>
<g id="n469" transform="translate(408 349)"><circle/><text>469</text></g>
<g id="n470" transform="translate(247 352)"><circle/><text>470</text></g>
<g id="n471" transform="translate(250 368)"><circle/><text>471</text></g>
<g id="n472" transform="translate(295 319)"><circle/><text>472</text></g>
<g id="n473" transform="translate(458 116)"><circle/><text>473</text></g>
<g id="n474" transform="translate(462 119)"><circle/><text>474</text></g>
<g id="n475" transform="translate(430 149)"><circle/><text>475</text></g>
<g id="n476" transform="translate(475 224)"><circle/><text>476</text></g>
<g id="n477" transform="translate(477 216)"><circle/><text>477</text></g>
<g id="n478" transform="translate(485 214)"><circle/><text>478</text></g>
<g id="n479" transform="translate(86 311)"><circle/><text>479</text></g>
<g id="n481" transform="translate(88 328)"><circle/><text>481</text></g>
<g id="n482" transform="translate(112 315)"><circle/><text>482</text></g>
<g id="n483" transform="translate(76 336)"><circle/><text>483</text></g>
<g id="n485" transform="translate(60 328)"><circle/><text>485</text></g>
<g id="n486" transform="translate(66 344)"><circle/><text>486</text></g>
<g id="n487" transform="translate(143 308)"><circle/><text>487</text></g>
<g id="n488" transform="translate(127 310)"><circle/><text>488</text></g>
<g id="n489" transform="translate(152 300)"><circle/><text>489</text></g>
<g id="n490" transform="translate(60 337)"><circle/><text>490</text></g>
<g id="n491" transform="translate(55 352)"><circle/><text>491</text></g>
<g id="n492" transform="translate(84 319)"><circle/><text>492</text></g>
<g id="n493" transform="translate(116 302)"><circle/><text>493</text></g>
<g id="n494" transform="translate(98 313)"><circle/><text>494</text></g>
<g id="n495" transform="translate(73 328)"><circle/><text>495</text></g>
<g id="n496" transform="translate(377 232)"><circle/><text>496</text></g>
<g id="n497" transform="translate(424 139)"><circle/><text>497</text></g>
<g id="n498" transform="translate(426 127)"><circle/><text>498</text></g>
<g id="n499" transform="translate(412 141)"><circle/><text>499</text></g>
<g id="n500" transform="translate(406 126)"><circle/><text>500</text></g>
<g id="n501" transform="translate(402 138)"><circle/><text>501</text></g>
<g id="n502" transform="translate(299 141)"><circle/><text>502</text></g>
<g id="n503" transform="translate(284 149)"><circle/><text>503</text></g>
<g id="n504" transform="translate(242 186)"><circle/><text>504</text></g>
<g id="n505" transform="translate(153 232)"><circle/><text>505</text></g>
<g id="n506" transform="translate(152 179)"><circle/><text>506</text></g>
<g id="n507" transform="translate(142 144)"><circle/><text>507</text></g>
<g id="n508" transform="translate(217 154)"><circle/><text>508</text></g>
<g id="n509" transform="translate(252 129)"><circle/><text>509</text></g>
<g id="n510" transform="translate(191 136)"><circle/><text>510</text></g>
<g id="n511" transform="translate(185 79)"><circle/><text>511</text></g>
<g id="n512" transform="translate(221 268)"><circle/><text>512</text></g>
<g id="n513" transform="translate(207 266)"><circle/><text>513</text></g>
<g id="n514" transform="translate(239 285)"><circle/><text>514</text></g>
<g id="n515" transform="translate(153 266)"><circle/><text>515</text></g>
<g id="n516" transform="translate(152 270)"><circle/><text>516</text></g>
<g id="n517" transform="translate(166 363)"><circle/><text>517</text></g>
<g id="n518" transform="translate(198 373)"><circle/><text>518</text></g>
<g id="n519" transform="translate(516 317)"><circle/><text>519</text></g>
<g id="n520" transform="translate(509 328)"><circle/><text>520</text></g>
<g id="n521" transform="translate(556 279)"><circle/><text>521</text></g>
<g id="n522" transform="translate(572 281)"><circle/><text>522</text></g>
<g id="n523" transform="translate(479 251)"><circle/><text>523</text></g>
<g id="n524" transform="translate(549 215)"><circle/><text>524</text></g>
<g id="n525" transform="translate(545 207)"><circle/><text>525</text></g>
<g id="n526" transform="translate(552 299)"><circle/><text>526</text></g>
<g id="n527" transform="translate(531 272)"><circle/><text>527</text></g>
<g id="n528" transform="translate(473 320)"><circle/><text>528</text></g>
<g id="n529" transform="translate(483 297)"><circle/><text>529</text></g>
<g id="n530" transform="translate(437 351)"><circle/><text>530</text></g>
<g id="n531" transform="translate(416 359)"><circle/><text>531</text></g>
<g id="n533" transform="translate(462 369)"><circle/><text>533</text></g>
<g id="n534" transform="translate(368 412)"><circle/><text>534</text></g>
<g id="n535" transform="translate(410 417)"><circle/><text>535</text></g>
<g id="n536" transform="translate(405 377)"><circle/><text>536</text></g>
<g id="n537" transform="translate(404 388)"><circle/><text>537</text></g>
<g id="n538" transform="translate(417 369)"><circle/><text>538</text></g>
<g id="n539" transform="translate(425 348)"><circle/><text>539</text></g>
<g id="n540" transform="translate(466 409)"><circle/><text>540</text></g>
<g id="n541" transform="translate(469 421)"><circle/><text>541</text></g>
<g id="n542" transform="translate(524 332)"><circle/><text>542</text></g>
<g id="n543" transform="translate(500 339)"><circle/><text>543</text></g>
<g id="n544" transform="translate(351 414)"><circle/><text>544</text></g>
<g id="n545" transform="translate(487 349)"><circle/><text>545</text></g>
<g id="n546" transform="translate(373 224)"><circle/><text>546</text></g>
<g id="n547" transform="translate(350 131)"><circle/><text>547</text></g>
<g id="n548" transform="translate(277 219)"><circle/><text>548</text></g>
<g id="n549" transform="translate(231 257)"><circle/><text>549</text></g>
<g id="n550" transform="translate(419 417)"><circle/><text>550</text></g>
</g>
</svg>
